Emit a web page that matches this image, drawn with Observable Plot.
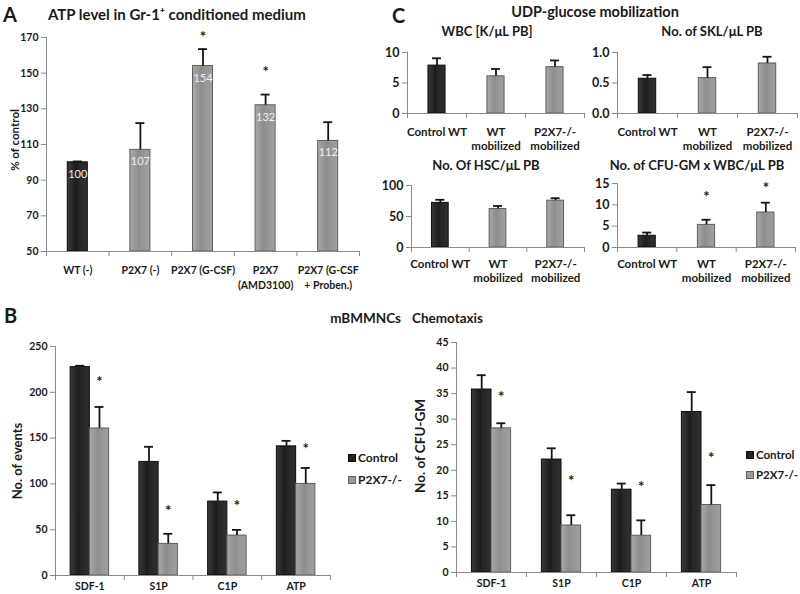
<!DOCTYPE html>
<html><head><meta charset="utf-8">
<script src="https://cdn.jsdelivr.net/npm/d3@7"></script>
<script src="https://cdn.jsdelivr.net/npm/@observablehq/plot@0.6"></script>
<style>
body{margin:0;background:#fff;}
#root{position:relative;width:800px;height:594px;overflow:hidden;font-family:Lato,"Open Sans",sans-serif;color:#1a1a1a;background:#fff;}
.t{position:absolute;font-weight:bold;white-space:nowrap;line-height:1;}
.c{transform:translate(-50%,-50%);}
.l{transform:translate(0,-50%);}
.e{transform:translate(-100%,-50%);}
.r{transform:translate(-50%,-50%) rotate(-90deg);}
.sw{position:absolute;width:8px;height:8px;box-sizing:border-box;}
</style></head><body>
<svg width="0" height="0" style="position:absolute">
<defs>
<linearGradient id="gDark" x1="0" x2="1" y1="0" y2="0">
<stop offset="0" stop-color="#3a3a3a"/><stop offset="0.45" stop-color="#1c1c1c"/><stop offset="0.55" stop-color="#262626"/><stop offset="1" stop-color="#303030"/>
</linearGradient>
<linearGradient id="gGray" x1="0" x2="1" y1="0" y2="0">
<stop offset="0" stop-color="#a9a9a9"/><stop offset="0.45" stop-color="#8c8c8c"/><stop offset="0.55" stop-color="#939393"/><stop offset="1" stop-color="#a0a0a0"/>
</linearGradient>
</defs></svg>
<div id="root"></div>
<script>
// ---------- DATA ----------
// Panel A
const aCategories = ["WT (-)", "P2X7 (-)", "P2X7 (G-CSF)", "P2X7\n(AMD3100)", "P2X7 (G-CSF\n+ Proben.)"];
const aGenotype = ["WT", "P2X7", "P2X7", "P2X7", "P2X7"];
const aValues = [100, 107, 154, 132, 112];
const aSD = [0.5, 15, 9.5, 6, 10.5];
const aStars = [null, null, 172, 152, null];
const aTicks = [50, 70, 90, 110, 130, 150, 170];

// Panel C
const cCategories = ["Control WT", "WT\nmobilized", "P2X7-/-\nmobilized"];
const cGenotype = ["WT", "P2X7", "P2X7"];
const wbcValues = [7.85, 6.1, 7.6];
const wbcSD = [1.2, 1.2, 1.1];
const wbcTicks = [0, 5, 10];
const sklValues = [0.57, 0.58, 0.82];
const sklSD = [0.06, 0.18, 0.11];
const sklTicks = [0, 0.5, 1];
const hscValues = [72, 62, 75.5];
const hscSD = [5, 5, 4];
const hscTicks = [0, 50, 100];
const cfuValues = [2.75, 5.3, 8.2];
const cfuSD = [0.75, 1.2, 2.3];
const cfuStars = [null, 12.6, 14.5];
const cfuTicks = [0, 5, 10, 15];

// Panel B
const bCategories = ["SDF-1", "S1P", "C1P", "ATP"];
const bSeries = ["Control", "P2X7-/-"];
const evControl = [227.5, 124, 80.7, 141];
const evControlSD = [1.5, 16.5, 10, 6];
const evP2X7 = [160.5, 34.5, 43.6, 100];
const evP2X7SD = [23.5, 11, 6.2, 17.4];
const evStars = [214, 73, 79, 141];
const evTicks = [0, 50, 100, 150, 200, 250];
const cfControl = [35.8, 22.1, 16.2, 31.4];
const cfControlSD = [2.8, 2.2, 1.2, 3.9];
const cfP2X7 = [28.2, 9.2, 7.2, 13.2];
const cfP2X7SD = [1.0, 2.0, 3.0, 3.9];
const cfStars = [34.8, 18.4, 17.2, 23];
const cfTicks = [0, 5, 10, 15, 20, 25, 30, 35, 40, 45];

// ---------- DRAW ----------
const root = document.getElementById("root");
const STYLE = {
  WT: {fill: "url(#gDark)", stroke: "#0d0d0d", swatch: "#222"},
  Control: {fill: "url(#gDark)", stroke: "#0d0d0d", swatch: "#222"},
  P2X7: {fill: "url(#gGray)", stroke: "#5e5e5e", swatch: "#9a9a9a"},
  "P2X7-/-": {fill: "url(#gGray)", stroke: "#5e5e5e", swatch: "#9a9a9a"}
};

function chart(cfg) {
  const {categories, series, yDomain, yTicks, yFormat, barFrac, left, top, width, height, margin,
         tickFont, labelFont, labelPad, lineHeight, valueLabels} = cfg;
  const n = categories.length;
  const step = (width - margin.left - margin.right) / n;
  const capHalf = 4.5 / step;
  const rows = [];
  series.forEach((s) => {
    s.values.forEach((v, i) => {
      const x1 = i + 0.5 + s.offset * barFrac;
      rows.push({i, v, top: v + s.sd[i], star: s.stars ? s.stars[i] : null,
                 group: s.groups[i], x1, x2: x1 + barFrac, xc: x1 + barFrac / 2});
    });
  });
  const marks = [];
  for (const [g, r] of d3.group(rows, d => d.group)) {
    marks.push(Plot.rect(r, {x1: "x1", x2: "x2", y1: yDomain[0], y2: "v", fill: STYLE[g].fill, stroke: STYLE[g].stroke, strokeWidth: 1}));
  }
  marks.push(
    Plot.ruleX(rows, {x: "xc", y1: "v", y2: "top", stroke: "#151515", strokeWidth: 1.8}),
    Plot.ruleY(rows, {y: "top", x1: d => d.xc - capHalf, x2: d => d.xc + capHalf, stroke: "#151515", strokeWidth: 1.8}),
    Plot.text(rows.filter(d => d.star != null), {x: "xc", y: "star", text: () => "*", fontSize: 15, dy: 3, fill: "#1a1a1a"}),
    Plot.ruleY([yDomain[0]], {stroke: "#8a8a8a"}),
    Plot.ruleX([0], {stroke: "#8a8a8a"}),
    Plot.axisY({ticks: yTicks, tickSize: 5, tickPadding: 3, tickFormat: yFormat || (d => String(d)), stroke: "#8a8a8a", fill: "#1a1a1a", fontSize: tickFont, label: null}),
    Plot.axisX({ticks: d3.range(0, n + 1), tickSize: 5, tickFormat: () => "", stroke: "#8a8a8a", label: null}),
    Plot.axisX({ticks: d3.range(n).map(i => i + 0.5), tickSize: 0, tickPadding: labelPad, tickFormat: t => categories[Math.floor(t)], fill: "#1a1a1a", fontSize: labelFont, lineHeight: lineHeight, label: null})
  );
  if (valueLabels) {
    marks.push(Plot.text(rows, {x: "xc", y: "v", text: d => String(d.v), dy: 12, fill: "#efefef", fontSize: 11, fontWeight: "normal"}));
  }
  const svg = Plot.plot({
    width, height,
    marginLeft: margin.left, marginRight: margin.right, marginTop: margin.top, marginBottom: margin.bottom,
    x: {domain: [0, n], axis: null},
    y: {domain: yDomain, axis: null},
    style: {fontFamily: "Lato, 'Open Sans', sans-serif", fontWeight: "bold", fontSize: "11px", background: "none", overflow: "visible", color: "#1a1a1a"},
    marks
  });
  svg.style.left = left + "px";
  svg.style.top = top + "px";
  svg.style.position = "absolute";
  svg.style.maxWidth = "none";
  root.appendChild(svg);
}

function label(text, x, y, size, cls) {
  const d = document.createElement("div");
  d.className = "t " + cls;
  d.textContent = text;
  d.style.left = x + "px";
  d.style.top = y + "px";
  d.style.fontSize = size + "px";
  root.appendChild(d);
  return d;
}

function legend(x, y, gap, size) {
  bSeries.forEach((s, k) => {
    const sw = document.createElement("div");
    sw.className = "sw";
    sw.style.left = x + "px";
    sw.style.top = (y + k * gap - 4) + "px";
    sw.style.background = STYLE[s].swatch;
    sw.style.border = "1px solid " + STYLE[s].stroke;
    root.appendChild(sw);
    label(s, x + 10, y + k * gap, size, "l");
  });
}

// Panel A
chart({categories: aCategories, series: [{values: aValues, sd: aSD, stars: aStars, groups: aGenotype, offset: -0.5}],
  yDomain: [50, 170], yTicks: aTicks, barFrac: 0.32, left: 0, top: 0, width: 380, height: 300,
  margin: {left: 46, right: 21, top: 37, bottom: 49}, tickFont: 10.5, labelFont: 10.5, labelPad: 12, lineHeight: 1.4, valueLabels: true});

// Panel C
const cCommon = {categories: cCategories, barFrac: 0.29, width: 210, height: 110, tickFont: 12.5, labelFont: 11.5, lineHeight: 1.2};
chart({...cCommon, series: [{values: wbcValues, sd: wbcSD, groups: cGenotype, offset: -0.5}],
  yDomain: [0, 10], yTicks: wbcTicks, left: 380, top: 40, margin: {left: 27, right: 6, top: 12, bottom: 37}, labelPad: 13});
chart({...cCommon, series: [{values: sklValues, sd: sklSD, groups: cGenotype, offset: -0.5}],
  yDomain: [0, 1], yTicks: sklTicks, yFormat: d3.format(".1f"), left: 590, top: 40, margin: {left: 27, right: 3, top: 12, bottom: 37}, labelPad: 13});
chart({...cCommon, series: [{values: hscValues, sd: hscSD, groups: cGenotype, offset: -0.5}],
  yDomain: [0, 100], yTicks: hscTicks, left: 380, top: 170, margin: {left: 31, right: 6, top: 15, bottom: 33}, labelPad: 11});
chart({...cCommon, series: [{values: cfuValues, sd: cfuSD, stars: cfuStars, groups: cGenotype, offset: -0.5}],
  yDomain: [0, 15], yTicks: cfuTicks, left: 590, top: 170, margin: {left: 27, right: 5, top: 13, bottom: 33}, labelPad: 11});

// Panel B
const bCommon = {categories: bCategories, barFrac: 0.28, width: 345, height: 264, tickFont: 10.5, labelFont: 10.5, labelPad: 6, lineHeight: 1.2};
chart({...bCommon, series: [
    {values: evControl, sd: evControlSD, groups: evControl.map(() => "Control"), offset: -1},
    {values: evP2X7, sd: evP2X7SD, stars: evStars, groups: evP2X7.map(() => "P2X7-/-"), offset: 0}],
  yDomain: [0, 250], yTicks: evTicks, left: 0, top: 330, margin: {left: 55, right: 15, top: 16, bottom: 19}});
chart({...bCommon, series: [
    {values: cfControl, sd: cfControlSD, groups: cfControl.map(() => "Control"), offset: -1},
    {values: cfP2X7, sd: cfP2X7SD, stars: cfStars, groups: cfP2X7.map(() => "P2X7-/-"), offset: 0}],
  yDomain: [0, 45], yTicks: cfTicks, left: 400, top: 330, margin: {left: 56, right: 9, top: 12, bottom: 22}});

// Titles & labels
label("A", 3, 14, 20, "l");
label("ATP level in Gr-1\u207A conditioned medium", 48, 14, 15, "l");
label("% of control", 15, 140, 11.5, "r");
label("C", 392, 15, 20, "l");
label("UDP-glucose mobilization", 595, 12, 14.5, "c");
label("WBC [K/\u03BCL PB]", 487, 31, 13, "c");
label("No. of SKL/\u03BCL PB", 712, 31, 13, "c");
label("No. Of HSC/\u03BCL PB", 486, 165, 13, "c");
label("No. of CFU-GM x WBC/\u03BCL PB", 697, 165, 13, "c");
label("B", 4, 315, 20, "l");
label("mBMMNCs", 401, 319, 13.5, "e");
label("Chemotaxis", 412, 319, 13.5, "l");
label("No. of events", 17, 461, 13, "r");
label("No. of CFU-GM", 421, 446, 13.5, "r");
legend(348, 458, 22, 12);
legend(746, 455, 20, 11.5);
</script>
</body></html>
